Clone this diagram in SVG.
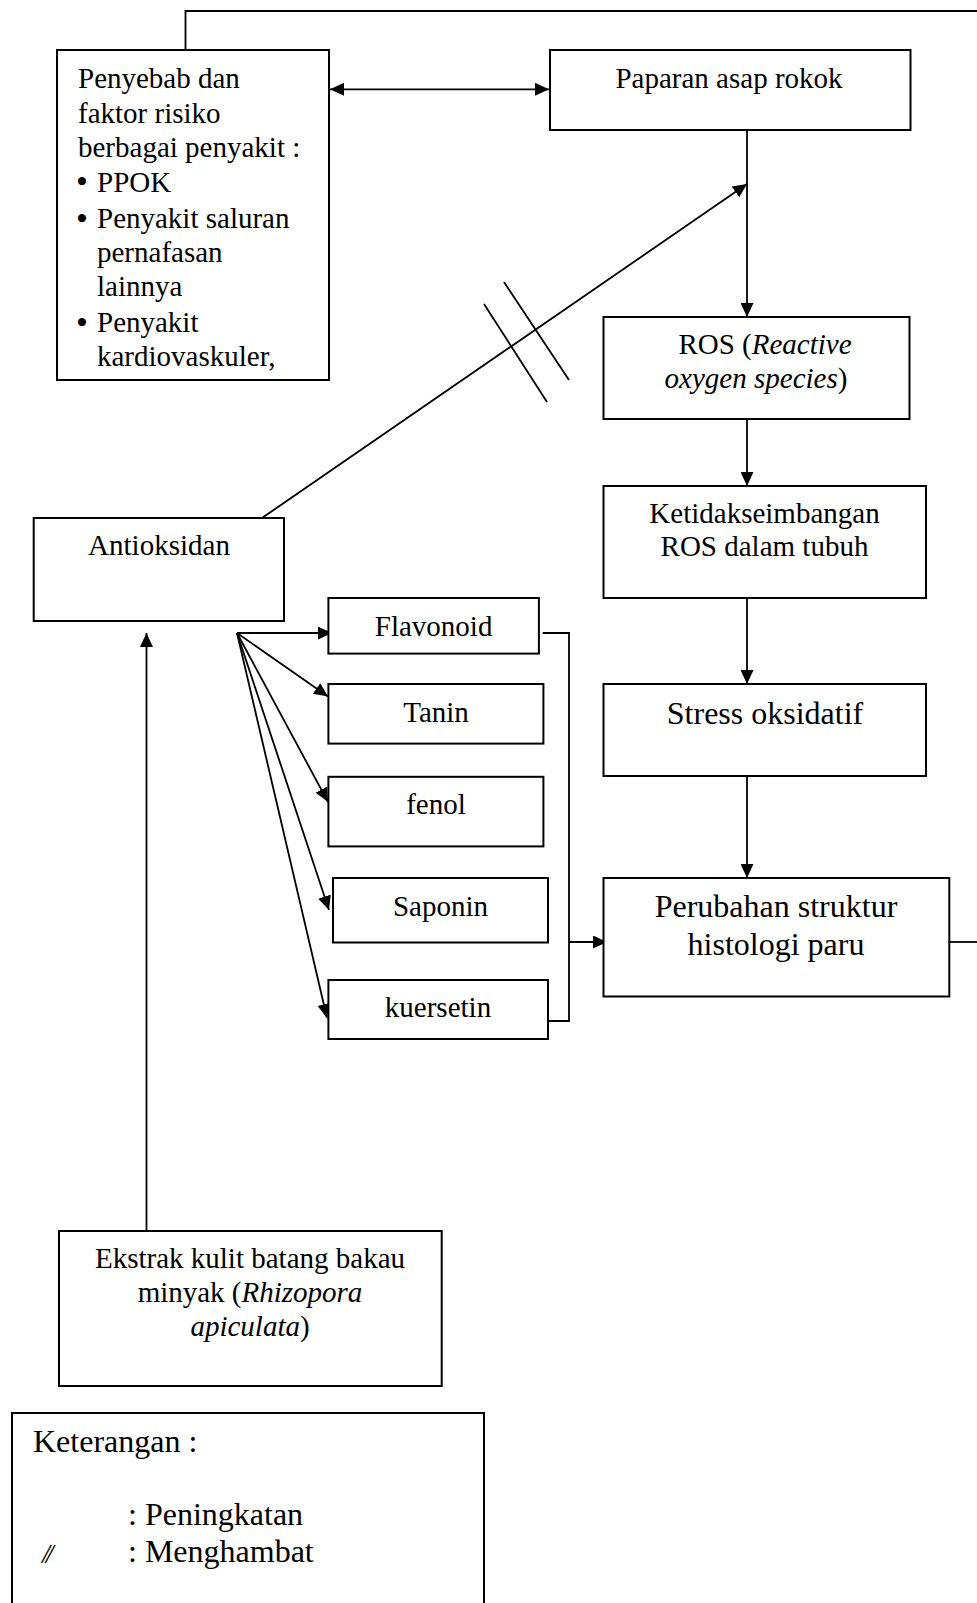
<svg xmlns="http://www.w3.org/2000/svg" width="977" height="1603" viewBox="0 0 977 1603">
<style>
.box{fill:#fff;stroke:#000;stroke-width:2}
.ln{fill:none;stroke:#000;stroke-width:1.8}
.t{font-family:"Liberation Serif","Times New Roman",serif;font-size:29px;fill:#000}
.c{text-anchor:middle}
.big{font-size:32px}
.i{font-style:italic}
.b{font-size:34px}
</style>
<defs>
<marker id="ah" markerWidth="14" markerHeight="13" refX="14" refY="6.5" orient="auto-start-reverse" markerUnits="userSpaceOnUse">
<path d="M0,0 L14,6.5 L0,13 z" fill="#000"/>
</marker>
</defs>
<rect width="977" height="1603" fill="#fff"/>

<g id="connectors">
<polyline class="ln" points="185.5,50 185.5,11 977,11"/>
<line class="ln" x1="330" y1="89.3" x2="549" y2="89.3" marker-start="url(#ah)" marker-end="url(#ah)"/>
<line class="ln" x1="747" y1="130" x2="747" y2="317" marker-end="url(#ah)"/>
<line class="ln" x1="262" y1="518" x2="747" y2="184" marker-end="url(#ah)"/>
<line class="ln" x1="484" y1="304" x2="547" y2="402"/>
<line class="ln" x1="504" y1="282" x2="569" y2="380"/>
<line class="ln" x1="747" y1="419" x2="747" y2="486" marker-end="url(#ah)"/>
<line class="ln" x1="747" y1="598" x2="747" y2="684" marker-end="url(#ah)"/>
<line class="ln" x1="747" y1="776" x2="747" y2="878" marker-end="url(#ah)"/>
<line class="ln" x1="949.3" y1="942" x2="977" y2="942"/>
<line class="ln" x1="146.5" y1="1231" x2="146.5" y2="633" marker-end="url(#ah)"/>
<line class="ln" x1="237" y1="633" x2="332" y2="633" marker-end="url(#ah)"/>
<line class="ln" x1="237" y1="633" x2="328" y2="696.5" marker-end="url(#ah)"/>
<line class="ln" x1="237" y1="633" x2="328" y2="802" marker-end="url(#ah)"/>
<line class="ln" x1="237" y1="633" x2="329" y2="910" marker-end="url(#ah)"/>
<line class="ln" x1="237" y1="633" x2="327" y2="1018" marker-end="url(#ah)"/>
<polyline class="ln" points="542.7,633 569,633 569,1021 548,1021"/>
<line class="ln" x1="569" y1="942" x2="607" y2="942" marker-end="url(#ah)"/>
</g>

<g id="penyebab">
<rect class="box" x="57" y="50" width="272" height="330"/>
<text class="t" x="78" y="88">Penyebab dan</text>
<text class="t" x="78" y="122.5">faktor risiko</text>
<text class="t" x="78" y="157">berbagai penyakit :</text>
<text class="t b" x="76" y="193">•</text>
<text class="t" x="97" y="191.5">PPOK</text>
<text class="t b" x="76" y="229.5">•</text>
<text class="t" x="97" y="228">Penyakit saluran</text>
<text class="t" x="97" y="262">pernafasan</text>
<text class="t" x="97" y="296">lainnya</text>
<text class="t b" x="76" y="333.5">•</text>
<text class="t" x="97" y="332">Penyakit</text>
<text class="t" x="97" y="366">kardiovaskuler,</text>
</g>

<g id="paparan">
<rect class="box" x="550" y="50" width="360.5" height="80"/>
<text class="t c" x="729" y="88.3">Paparan asap rokok</text>
</g>

<g id="ros">
<rect class="box" x="603.5" y="317" width="306" height="102"/>
<text class="t c" x="765" y="353.5">ROS (<tspan class="i">Reactive</tspan></text>
<text class="t c" x="756" y="387.5"><tspan class="i">oxygen species</tspan>)</text>
</g>

<g id="ketidakseimbangan">
<rect class="box" x="603.5" y="486" width="322.5" height="112"/>
<text class="t c" x="764.5" y="522.5">Ketidakseimbangan</text>
<text class="t c" x="764.5" y="556.4">ROS dalam tubuh</text>
</g>

<g id="stress">
<rect class="box" x="603.5" y="684" width="322.5" height="92"/>
<text class="t c big" x="765" y="724">Stress oksidatif</text>
</g>

<g id="perubahan">
<rect class="box" x="603.5" y="878" width="345.8" height="118.5"/>
<text class="t c big" x="776" y="917">Perubahan struktur</text>
<text class="t c big" x="776" y="954.6">histologi paru</text>
</g>

<g id="antioksidan">
<rect class="box" x="33.7" y="518" width="250.3" height="103"/>
<text class="t c" x="159" y="555.4">Antioksidan</text>
</g>

<g id="flavonoid">
<rect class="box" x="328.4" y="598" width="210.5" height="55.6"/>
<text class="t c" x="433.6" y="635.7">Flavonoid</text>
</g>

<g id="tanin">
<rect class="box" x="328.4" y="684" width="215" height="59.6"/>
<text class="t c" x="436" y="722">Tanin</text>
</g>

<g id="fenol">
<rect class="box" x="328.4" y="776.8" width="215" height="69.6"/>
<text class="t c" x="436" y="814.3">fenol</text>
</g>

<g id="saponin">
<rect class="box" x="333" y="878" width="215" height="64.5"/>
<text class="t c" x="440.5" y="915.7">Saponin</text>
</g>

<g id="kuersetin">
<rect class="box" x="328.4" y="980" width="219.6" height="59"/>
<text class="t c" x="438" y="1016.8">kuersetin</text>
</g>

<g id="ekstrak">
<rect class="box" x="59" y="1231" width="382.7" height="155"/>
<text class="t c" x="250" y="1268.3">Ekstrak kulit batang bakau</text>
<text class="t c" x="250" y="1301.7">minyak (<tspan class="i">Rhizopora</tspan></text>
<text class="t c" x="250" y="1336"><tspan class="i">apiculata</tspan>)</text>
</g>

<g id="keterangan">
<rect class="box" x="12" y="1413" width="472" height="200"/>
<text class="t big" x="33" y="1452">Keterangan :</text>
<text class="t big" x="128" y="1525">: Peningkatan</text>
<text class="t i" x="42" y="1563" style="font-size:28px;letter-spacing:-4px">//</text>
<text class="t big" x="128" y="1562">: Menghambat</text>
</g>
</svg>
